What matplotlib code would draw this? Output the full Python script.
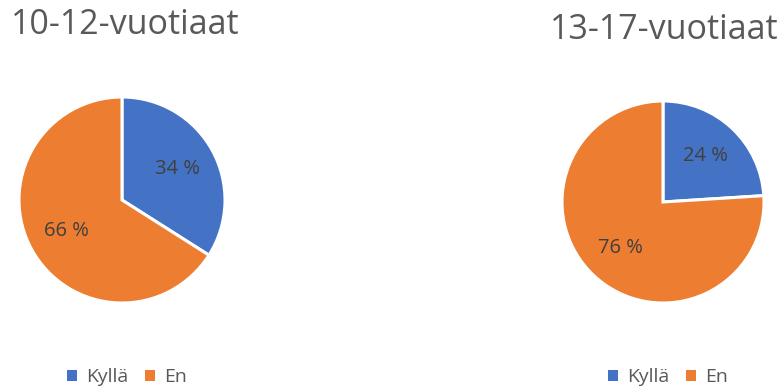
import matplotlib
matplotlib.use("Agg")
import matplotlib.pyplot as plt
from matplotlib.patches import Patch

# data
categories = ["Kyllä", "En"]
titles = ["10-12-vuotiaat", "13-17-vuotiaat"]
values_10_12 = [34, 66]
values_13_17 = [24, 76]

colors = ["#4472C4", "#ED7D31"]
plt.rcParams["font.family"] = ["Open Sans", "DejaVu Sans"]

W, H = 779, 387
fig = plt.figure(figsize=(W / 100, H / 100), dpi=100)

# (center x, center y from top, radius) in pixels
pies = [
    (titles[0], values_10_12, 122, 200, 103, 125, 25, 127),
    (titles[1], values_13_17, 663, 202, 101, 664, 30, 668),
]

for title, vals, cx, cy, r, tx, ty, lx in pies:
    ax = fig.add_axes([(cx - r) / W, (H - cy - r) / H, 2 * r / W, 2 * r / H])
    wedges, _, _ = ax.pie(vals, colors=colors, startangle=90, counterclock=False,
                          autopct=lambda p: f"{p:.0f} %", pctdistance=0.62,
                          wedgeprops=dict(edgecolor="white", linewidth=2.2),
                          textprops=dict(color="#404040", fontsize=14.5))
    for w in wedges:
        w.set_clip_on(False)
    ax.set_xlim(-1, 1)
    ax.set_ylim(-1, 1)
    ax.set_aspect("equal")
    ax.axis("off")
    fig.text(tx / W, 1 - ty / H, title, ha="center", va="center",
             fontsize=24.5, color="#595959")
    handles = [Patch(facecolor=c, edgecolor="none") for c in colors]
    fig.legend(handles, categories, loc="center", ncol=2,
               bbox_to_anchor=(lx / W, 1 - 377 / H), frameon=False,
               fontsize=14, labelcolor="#595959", handlelength=0.5,
               handleheight=0.5, handletextpad=0.45, columnspacing=0.9)

fig.savefig("out.png", dpi=100)
